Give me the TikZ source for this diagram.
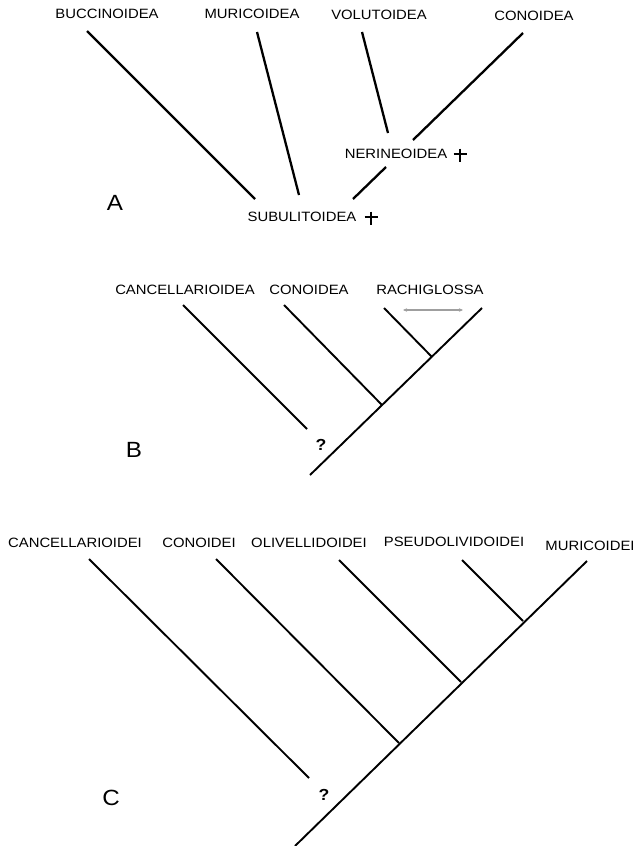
\documentclass[tikz,border=0pt]{standalone}
\usepackage{fontspec}
\setmainfont{Liberation Sans}[FakeStretch=1.1]
\usetikzlibrary{arrows.meta}
\begin{document}
\begin{tikzpicture}[x=1pt,y=-1pt,
  lbl/.style={inner sep=0pt,font=\fontsize{13.5}{15}\selectfont},
  panel/.style={inner sep=0pt,font=\fontsize{22}{24}\selectfont},
  qm/.style={inner sep=0pt,font=\fontsize{16}{18}\selectfont\bfseries},
  brA/.style={line width=2.3pt},
  br/.style={line width=1.9pt},
  xcross/.pic={\draw[line width=1.1pt] (-6.5,0)--(6.5,0) (0,-5.5)--(0,8);}
]
\useasboundingbox (0,0) rectangle (635,846);
% ---------- Panel A ----------
\node[lbl] (bucA) at (107,14) {BUCCINOIDEA};
\node[lbl] (murA) at (252,14) {MURICOIDEA};
\node[lbl] (volA) at (379,15) {VOLUTOIDEA};
\node[lbl] (conA) at (534,16) {CONOIDEA};
\node[lbl] (nerA) at (396,154) {NERINEOIDEA};
\node[lbl] (subA) at (302,217) {SUBULITOIDEA};
\pic at (460,154) {xcross};
\pic at (371,217) {xcross};
\node[panel] (pA) at (115,203) {A};
\coordinate (a1) at (87,31);  \coordinate (a1e) at (255,199);
\coordinate (a2) at (257,32); \coordinate (a2e) at (299,195);
\coordinate (a3) at (362,32); \coordinate (a3e) at (388,133);
\coordinate (a4) at (523,33); \coordinate (a4e) at (413,140);
\coordinate (a5) at (386,167); \coordinate (a5e) at (353,199);
\draw[brA] (a1) -- (a1e);
\draw[brA] (a2) -- (a2e);
\draw[brA] (a3) -- (a3e);
\draw[brA] (a4) -- (a4e);
\draw[brA] (a5) -- (a5e);
% ---------- Panel B ----------
\node[lbl] (canB) at (185,290) {CANCELLARIOIDEA};
\node[lbl] (conB) at (309,290) {CONOIDEA};
\node[lbl] (racB) at (430,290) {RACHIGLOSSA};
\node[qm] (qB) at (321,445) {?};
\node[panel] (pB) at (134,450) {B};
\coordinate (b1) at (183,305); \coordinate (b1e) at (307,429);
\coordinate (b2) at (284,305); \coordinate (b2e) at (382,405);
\coordinate (b3) at (384,308); \coordinate (b3e) at (432,357);
\coordinate (bt0) at (310,475); \coordinate (bt1) at (482,308);
\coordinate (ar0) at (403,310); \coordinate (ar1) at (463,310);
\draw[br] (b1) -- (b1e);
\draw[br] (b2) -- (b2e);
\draw[br] (b3) -- (b3e);
\draw[br] (bt0) -- (bt1);
\draw[gray!75, line width=1.3pt, {Stealth[length=4pt,width=3.5pt]}-{Stealth[length=4pt,width=3.5pt]}] (ar0) -- (ar1);
% ---------- Panel C ----------
\node[lbl] (canC) at (75,543) {CANCELLARIOIDEI};
\node[lbl] (conC) at (199,543) {CONOIDEI};
\node[lbl] (oliC) at (309,543) {OLIVELLIDOIDEI};
\node[lbl] (pseC) at (454,542) {PSEUDOLIVIDOIDEI};
\node[lbl] (murC) at (590,546) {MURICOIDEI};
\node[qm] (qC) at (324,795) {?};
\node[panel] (pC) at (111,798) {C};
\coordinate (c1) at (89,559);  \coordinate (c1e) at (309,778);
\coordinate (c2) at (216,559); \coordinate (c2e) at (399,743);
\coordinate (c3) at (339,560); \coordinate (c3e) at (461,682);
\coordinate (c4) at (462,560); \coordinate (c4e) at (523,621);
\coordinate (ct0) at (295,846); \coordinate (ct1) at (587,561);
\draw[br] (c1) -- (c1e);
\draw[br] (c2) -- (c2e);
\draw[br] (c3) -- (c3e);
\draw[br] (c4) -- (c4e);
\draw[br] (ct0) -- (ct1);
\end{tikzpicture}
\end{document}
